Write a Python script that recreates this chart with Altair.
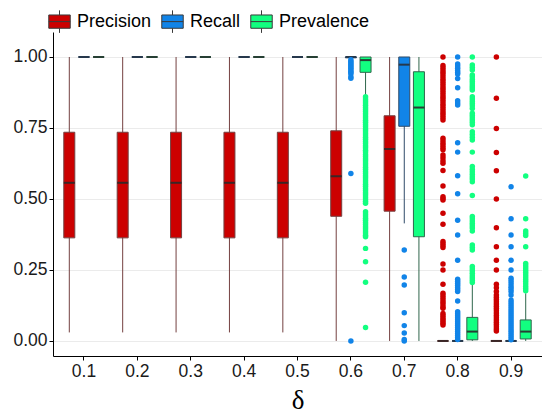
import altair as alt
import pandas as pd

deltas = ["0.1", "0.2", "0.3", "0.4", "0.5", "0.6", "0.7", "0.8", "0.9"]
metrics = ["Precision", "Recall", "Prevalence"]

# box summaries (lower whisker, q1, median, q3, upper whisker) per delta
precision_lower = [0.03, 0.03, 0.03, 0.03, 0.03, 0.0, 0.0, 0.0, 0.0]
precision_q1 = [0.363, 0.363, 0.363, 0.363, 0.363, 0.439, 0.457, 0.0, 0.0]
precision_median = [0.557, 0.557, 0.557, 0.557, 0.557, 0.580, 0.676, 0.0, 0.0]
precision_q3 = [0.735, 0.735, 0.735, 0.735, 0.735, 0.740, 0.793, 0.0, 0.0]
precision_upper = [1.0, 1.0, 1.0, 1.0, 1.0, 1.0, 1.0, 0.0, 0.0]

recall_lower = [1.0, 1.0, 1.0, 1.0, 1.0, 0.995, 0.414, 0.0, 0.0]
recall_q1 = [1.0, 1.0, 1.0, 1.0, 1.0, 0.997, 0.756, 0.0, 0.0]
recall_median = [1.0, 1.0, 1.0, 1.0, 1.0, 1.0, 0.973, 0.0, 0.0]
recall_q3 = [1.0, 1.0, 1.0, 1.0, 1.0, 1.0, 1.0, 0.0, 0.0]
recall_upper = [1.0, 1.0, 1.0, 1.0, 1.0, 1.0, 1.0, 0.0, 0.0]

prevalence_lower = [1.0, 1.0, 1.0, 1.0, 1.0, 0.866, 0.0, 0.0, 0.0]
prevalence_q1 = [1.0, 1.0, 1.0, 1.0, 1.0, 0.946, 0.367, 0.004, 0.007]
prevalence_median = [1.0, 1.0, 1.0, 1.0, 1.0, 0.989, 0.822, 0.033, 0.033]
prevalence_q3 = [1.0, 1.0, 1.0, 1.0, 1.0, 1.0, 0.948, 0.083, 0.074]
prevalence_upper = [1.0, 1.0, 1.0, 1.0, 1.0, 1.0, 1.0, 0.203, 0.168]

# outliers
recall_06_out = [0.99, 0.985, 0.98, 0.975, 0.97, 0.965, 0.96, 0.955, 0.95, 0.945,
                 0.94, 0.93, 0.925, 0.59, 0.0]
prevalence_06_out = [0.86, 0.852, 0.845, 0.838, 0.83, 0.822, 0.815, 0.808, 0.80, 0.792,
                     0.785, 0.777, 0.77, 0.762, 0.755, 0.747, 0.74, 0.732, 0.725, 0.717,
                     0.71, 0.702, 0.695, 0.687, 0.68, 0.672, 0.665, 0.657, 0.65, 0.642,
                     0.635, 0.627, 0.62, 0.612, 0.605, 0.597, 0.59, 0.582, 0.575, 0.567,
                     0.56, 0.552, 0.545, 0.537, 0.53, 0.522, 0.515, 0.507, 0.50, 0.492,
                     0.485, 0.455, 0.447, 0.44, 0.432, 0.425, 0.417, 0.41, 0.402, 0.395,
                     0.387, 0.38, 0.372, 0.367, 0.326, 0.279, 0.207, 0.047]
recall_07_out = [0.32, 0.225, 0.197, 0.099, 0.054, 0.028, 0.005, 0.0]
precision_08_out = [1.0, 0.97, 0.962, 0.954, 0.946, 0.938, 0.93, 0.922, 0.914, 0.906,
                    0.898, 0.89, 0.882, 0.874, 0.866, 0.858, 0.85, 0.842, 0.834, 0.826,
                    0.818, 0.81, 0.802, 0.794, 0.786, 0.778, 0.714, 0.705, 0.696, 0.688,
                    0.68, 0.673, 0.655, 0.645, 0.635, 0.626, 0.6, 0.546, 0.508, 0.502,
                    0.496, 0.45, 0.411, 0.35, 0.343, 0.336, 0.329, 0.271, 0.25, 0.2,
                    0.168, 0.16, 0.152, 0.144, 0.136, 0.128, 0.12, 0.115, 0.097, 0.09,
                    0.083, 0.076, 0.069, 0.062, 0.056]
recall_08_out = [1.0, 0.975, 0.968, 0.96, 0.952, 0.945, 0.94, 0.924, 0.892, 0.846,
                 0.838, 0.831, 0.698, 0.665, 0.582, 0.518, 0.425, 0.373, 0.284, 0.217,
                 0.21, 0.203, 0.196, 0.188, 0.181, 0.174, 0.141, 0.103, 0.096, 0.089,
                 0.082, 0.075, 0.068, 0.061, 0.054, 0.047, 0.04, 0.033, 0.026, 0.019,
                 0.012, 0.005]
prevalence_08_out = [1.0, 0.972, 0.963, 0.954, 0.937, 0.93, 0.922, 0.914, 0.906, 0.898,
                     0.891, 0.884, 0.86, 0.852, 0.844, 0.836, 0.828, 0.819, 0.802, 0.794,
                     0.786, 0.778, 0.77, 0.761, 0.737, 0.727, 0.717, 0.708, 0.665, 0.614,
                     0.605, 0.596, 0.587, 0.578, 0.57, 0.561, 0.512, 0.438, 0.43, 0.422,
                     0.414, 0.406, 0.398, 0.387, 0.338, 0.329, 0.32, 0.262, 0.254, 0.246,
                     0.238, 0.23, 0.222, 0.214, 0.206]
precision_09_out = [1.0, 0.855, 0.748, 0.664, 0.599, 0.5, 0.399, 0.332, 0.284, 0.25,
                    0.2, 0.187, 0.174, 0.162, 0.154, 0.146, 0.138, 0.13, 0.122, 0.114,
                    0.106, 0.098, 0.09, 0.082, 0.074, 0.066, 0.058, 0.05, 0.042, 0.035]
recall_09_out = [0.543, 0.43, 0.373, 0.332, 0.284, 0.25, 0.221, 0.213, 0.205, 0.197,
                 0.189, 0.181, 0.173, 0.162, 0.144, 0.137, 0.13, 0.123, 0.116, 0.109,
                 0.102, 0.095, 0.088, 0.081, 0.074, 0.067, 0.06, 0.053, 0.046, 0.039,
                 0.032, 0.025, 0.018, 0.011, 0.004]
prevalence_09_out = [0.581, 0.43, 0.387, 0.379, 0.371, 0.332, 0.273, 0.265, 0.257, 0.249,
                     0.241, 0.233, 0.225, 0.217, 0.209, 0.201, 0.193, 0.185, 0.177]

fill_colors = ["#CC0000", "#1184E8", "#12FF80"]
line_colors = ["#744040", "#2F4B68", "#2F664C"]
median_colors = ["#3A2626", "#26384C", "#263F34"]

summaries = {
    "Precision": (precision_lower, precision_q1, precision_median, precision_q3, precision_upper),
    "Recall": (recall_lower, recall_q1, recall_median, recall_q3, recall_upper),
    "Prevalence": (prevalence_lower, prevalence_q1, prevalence_median, prevalence_q3, prevalence_upper),
}
rows = []
for m, (lo, q1, md, q3, hi) in summaries.items():
    for i, d in enumerate(deltas):
        rows.append(dict(delta=d, metric=m, lower=lo[i], q1=q1[i], median=md[i],
                         q3=q3[i], upper=hi[i]))
box_df = pd.DataFrame(rows)

outliers = [
    ("Recall", "0.6", recall_06_out), ("Prevalence", "0.6", prevalence_06_out),
    ("Recall", "0.7", recall_07_out),
    ("Precision", "0.8", precision_08_out), ("Recall", "0.8", recall_08_out),
    ("Prevalence", "0.8", prevalence_08_out),
    ("Precision", "0.9", precision_09_out), ("Recall", "0.9", recall_09_out),
    ("Prevalence", "0.9", prevalence_09_out),
]
out_df = pd.DataFrame([dict(delta=d, metric=m, value=v)
                       for m, d, vals in outliers for v in vals])

FONT = "Liberation Sans"
x_enc = alt.X("delta:N",
              scale=alt.Scale(domain=deltas, paddingInner=0, paddingOuter=0.08),
              axis=alt.Axis(title="δ", titleFont="Liberation Serif", titleFontSize=27,
                            titleFontWeight="normal", titleColor="black", titlePadding=8,
                            labelAngle=0, bandPosition=0.5))
xo_enc = alt.XOffset("metric:N", scale=alt.Scale(domain=metrics, paddingInner=0,
                                                 paddingOuter=0.32))
y_scale = alt.Scale(domain=[-0.053, 1.088], nice=False, zero=False)
y_axis = alt.Axis(values=[0, 0.25, 0.5, 0.75, 1.0], format=".2f", title=None)
stroke_enc = alt.Stroke("metric:N", scale=alt.Scale(domain=metrics, range=line_colors),
                        legend=None)

legend_path = "M-1,-0.62H1V0.62H-1Z M-1,0H1 M0,-0.62V-1.05 M0,0.62V1.05"

whiskers = alt.Chart(box_df).mark_rule(strokeWidth=1).encode(
    x=x_enc, xOffset=xo_enc,
    y=alt.Y("lower:Q", scale=y_scale, axis=y_axis), y2="upper:Q",
    stroke=stroke_enc,
)
boxes = alt.Chart(box_df).mark_bar(size=11, strokeWidth=1).encode(
    x=x_enc, xOffset=xo_enc,
    y=alt.Y("q1:Q", scale=y_scale, axis=y_axis), y2="q3:Q",
    fill=alt.Fill("metric:N", scale=alt.Scale(domain=metrics, range=fill_colors),
                  legend=alt.Legend(title=None, orient="none", legendX=-5, legendY=-22,
                                    direction="horizontal", symbolType=legend_path,
                                    symbolSize=460, symbolStrokeColor="#3a3a3a",
                                    symbolStrokeWidth=1, labelFont=FONT, labelFontSize=18,
                                    labelColor="black", labelOffset=6, columnPadding=7,
                                    padding=0)),
    stroke=stroke_enc,
)
medians = alt.Chart(box_df).mark_tick(size=11, thickness=2, opacity=1).encode(
    x=x_enc, xOffset=xo_enc,
    y=alt.Y("median:Q", scale=y_scale, axis=y_axis),
    fill=alt.Fill("metric:N", scale=alt.Scale(domain=metrics, range=median_colors),
                  legend=None),
)
points = alt.Chart(out_df).mark_circle(size=30, opacity=1).encode(
    x=x_enc, xOffset=xo_enc,
    y=alt.Y("value:Q", scale=y_scale, axis=y_axis),
    fill=alt.Fill("metric:N", scale=alt.Scale(domain=metrics, range=fill_colors),
                  legend=None),
)

chart = alt.layer(whiskers, boxes, medians, points).resolve_scale(
    fill="independent"
).properties(
    width=489, height=324,
    autosize=alt.AutoSizeParams(type="none"),
    padding={"left": 53, "top": 32, "right": 0, "bottom": 54},
).configure_view(strokeWidth=0).configure_axis(
    labelFont=FONT, labelFontSize=17.5, labelColor="#1a1a1a",
    domainColor="black", domainWidth=1, tickColor="black", tickSize=4, labelPadding=2,
    gridColor="#EBEBEB", gridWidth=1,
)

chart.save("out.html", embed_options={"renderer": "svg", "actions": False})
